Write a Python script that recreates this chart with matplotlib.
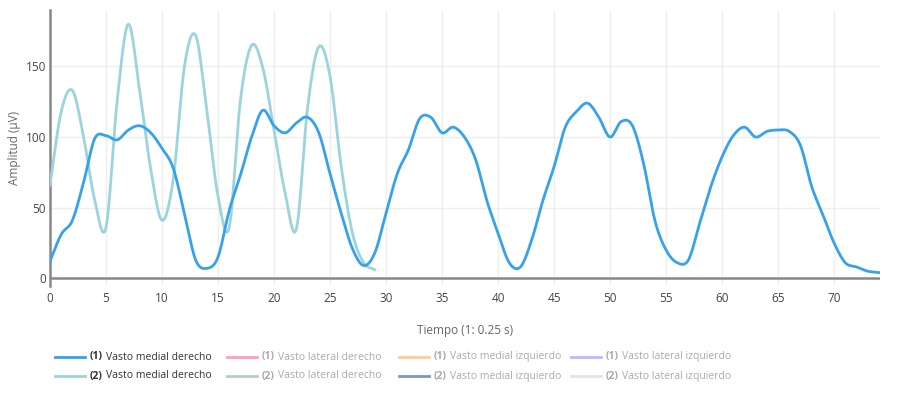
import numpy as np
import matplotlib
matplotlib.use('Agg')
import matplotlib.pyplot as plt

plt.rcParams['font.family'] = ['Open Sans', 'DejaVu Sans']

# data (x = sample index, 1 sample = 0.25 s)
vmd_1 = [12, 31, 41, 68, 99, 101, 98, 105, 108, 103, 92, 78, 46, 13, 7, 15, 48, 73, 100, 119,
         108, 103, 110, 114, 103, 74, 46, 21, 9, 18, 46, 74, 91, 113, 114, 103, 107, 100, 84, 55,
         32, 11, 8, 27, 55, 79, 107, 118, 124, 114, 100, 111, 108, 81, 41, 20, 11, 13, 39, 65,
         86, 101, 107, 100, 104, 105, 104, 94, 65, 45, 25, 11, 8, 5, 4]
vmd_2 = [66, 118, 133, 100, 55, 36, 126, 180, 133, 77, 41, 70, 150, 172, 119, 58, 36, 126, 165, 149,
         105, 60, 35, 121, 164, 143, 79, 32, 11, 6]

legend_names = ['Vasto medial derecho', 'Vasto lateral derecho',
                'Vasto medial izquierdo', 'Vasto lateral izquierdo']
legend_colors_1 = ['#36a2eb', '#ff9fb8', '#ffcd94', '#c9b3ff']
legend_colors_2 = ['#9bd4dc', '#b6cdc2', '#7b96c8', '#e3e4e5']


def smooth(y, n=12):
    # catmull-rom style smoothing, like the plotly 'spline' line shape
    y = np.asarray(y, dtype=float)
    x = np.arange(len(y), dtype=float)
    p = np.concatenate([[2 * y[0] - y[1]], y, [2 * y[-1] - y[-2]]])
    xs, ys = [], []
    t = np.linspace(0, 1, n, endpoint=False)
    for i in range(len(y) - 1):
        p0, p1, p2, p3 = p[i], p[i + 1], p[i + 2], p[i + 3]
        seg = 0.5 * ((2 * p1) + (-p0 + p2) * t + (2 * p0 - 5 * p1 + 4 * p2 - p3) * t ** 2
                     + (-p0 + 3 * p1 - 3 * p2 + p3) * t ** 3)
        xs.extend(x[i] + t)
        ys.extend(seg)
    xs.append(x[-1])
    ys.append(y[-1])
    return np.array(xs), np.array(ys)


fig = plt.figure(figsize=(9, 4), dpi=100)
ax = fig.add_axes([50 / 900, 1 - 286 / 400, 830 / 900, 276 / 400])

xs, ys = smooth(vmd_2)
ax.plot(xs, ys, color=legend_colors_2[0], lw=2, zorder=3)
xs, ys = smooth(vmd_1)
ax.plot(xs, ys, color=legend_colors_1[0], lw=2, zorder=4)

ax.set_xlim(0, 74.1)
ax.set_ylim(-5.5, 190)
ax.set_xticks(np.arange(0, 75, 5))
ax.set_yticks([0, 50, 100, 150])
ax.grid(True, color='#eeeeee', lw=1)
ax.set_axisbelow(True)
ax.axhline(0, color='#888888', lw=1.8, zorder=2)
for s in ['top', 'right', 'bottom']:
    ax.spines[s].set_visible(False)
ax.spines['left'].set_color('#888888')
ax.spines['left'].set_linewidth(1.8)
ax.tick_params(length=0, labelsize=8.5, colors='#444444', pad=4)
ax.tick_params(axis='y', pad=3)
ax.set_xlabel('Tiempo (1: 0.25 s)', fontsize=8.5, color='#666666', labelpad=14)
ax.set_ylabel('Amplitud (µV)', fontsize=8.5, color='#666666', labelpad=3)

# legend, drawn by hand: bold index + name, hidden traces in gray
renderer = fig.canvas.get_renderer()
for row, (idx, cols) in enumerate([('(1)', legend_colors_1), ('(2)', legend_colors_2)]):
    ypix = 357 + row * 19
    yf = 1 - ypix / 400
    for k, name in enumerate(legend_names):
        x0 = 55 + k * 172
        fig.add_artist(plt.Line2D([x0 / 900, (x0 + 30) / 900], [yf, yf], color=cols[k], lw=2))
        tc = '#333333' if k == 0 else '#aaaaaa'
        t1 = fig.text((x0 + 35) / 900, yf, idx, fontsize=7.5, fontweight='bold', color=tc, va='center')
        w = t1.get_window_extent(renderer).width
        fig.text((x0 + 35 + w + 3) / 900, yf, name, fontsize=7.5, color=tc, va='center')

fig.savefig('out.png', dpi=100)
